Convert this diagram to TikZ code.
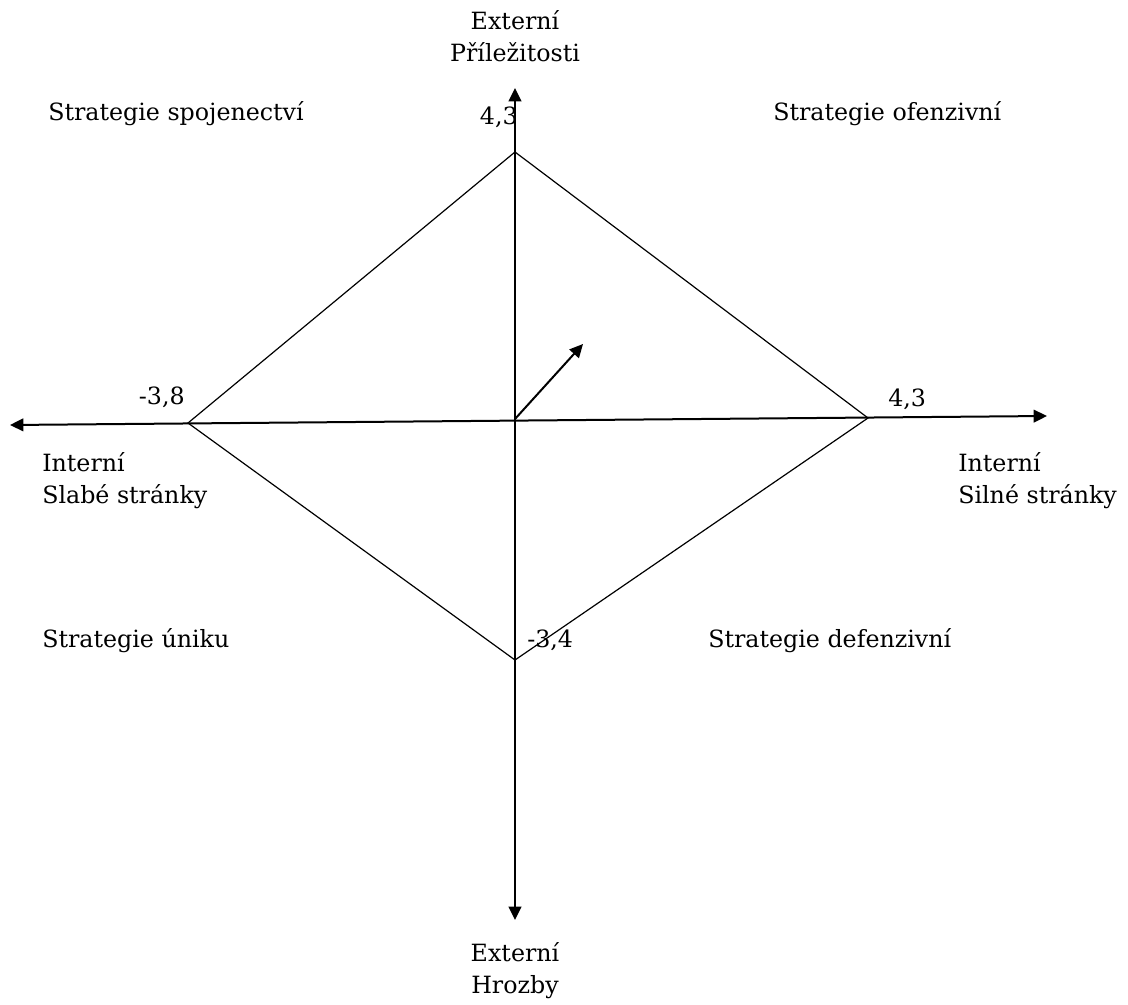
\documentclass[tikz,border=0pt]{standalone}
\usepackage{fontspec}
\setmainfont{DejaVu Serif}
\usetikzlibrary{arrows.meta,positioning}

\begin{document}
\begin{tikzpicture}[x=0.75pt, y=-0.75pt, >={Triangle[length=10pt,width=9.5pt]},
  every node/.style={font=\fontsize{17.8}{24}\selectfont, inner sep=0pt},
  axis/.style={line width=1.5pt}, rhomb/.style={line width=0.9pt}]
\useasboundingbox (0,0) rectangle (1128,1005);
% axes
\coordinate (ax_n) at (515,88);
\coordinate (ax_s) at (515,920);
\coordinate (ax_w) at (10,425);
\coordinate (ax_e) at (1047,416);
\coordinate (o) at (515,419);
\coordinate (res) at (583,344);
% vertices of the rhombus
\coordinate (p_n) at (515,152);
\coordinate (p_e) at (868,418);
\coordinate (p_s) at (515,660);
\coordinate (p_w) at (188,423);
\path [<->, axis]
(ax_w) edge (ax_e)
(ax_s) edge (ax_n);
\path [->, axis] (o) edge (res);
\draw [rhomb] (p_n) -- (p_e) -- (p_s) -- (p_w) -- cycle;
% values
\node (v_n) [anchor=south east] at (518,128) {4,3};
\node (v_e) [anchor=south west] at (888,410) {4,3};
\node (v_w) [anchor=south east] at (185,408) {-3,8};
\node (v_s) [anchor=base west] at (527,647) {-3,4};
% axis labels
\node (l_n) [align=center] at (515,36) {Externí\\Příležitosti};
\node (l_s) [align=center] at (515,971) {Externí\\Hrozby};
\node (l_w) [align=left, anchor=west] at (42,481) {Interní\\Slabé stránky};
\node (l_e) [align=left, anchor=west] at (958,481) {Interní\\Silné stránky};
% quadrants
\node (q_nw) [anchor=base west] at (48,121) {Strategie spojenectví};
\node (q_ne) [anchor=base west] at (773,121) {Strategie ofenzivní};
\node (q_sw) [anchor=base west] at (42,647) {Strategie úniku};
\node (q_se) [anchor=base west] at (708,647) {Strategie defenzivní};
\end{tikzpicture}
\end{document}
